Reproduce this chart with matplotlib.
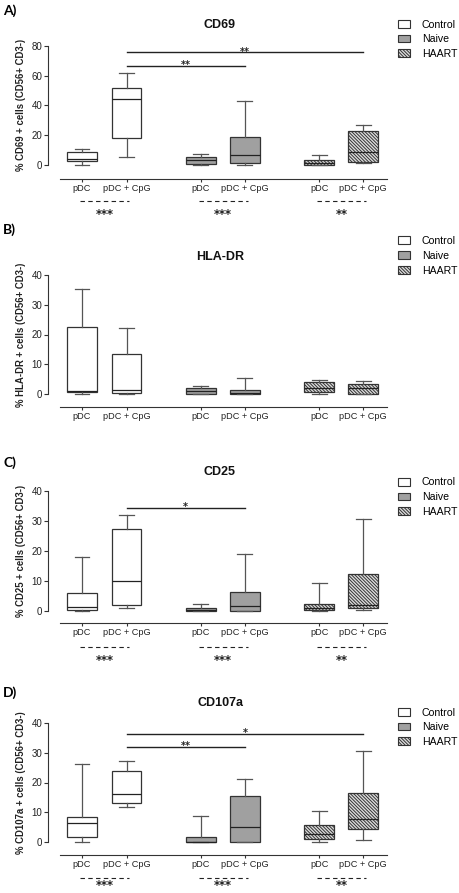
import matplotlib
matplotlib.use('Agg')
import matplotlib.pyplot as plt
import matplotlib.transforms as mtransforms
from matplotlib.patches import Patch

plt.rcParams['font.family'] = ['Liberation Sans', 'DejaVu Sans']
plt.rcParams['hatch.linewidth'] = 0.7

groups = ['Control', 'Naive', 'HAART']
tick_labels = ['pDC', 'pDC + CpG', 'pDC', 'pDC + CpG', 'pDC', 'pDC + CpG']

# box stats per condition: Control pDC, Control CpG, Naive pDC, Naive CpG, HAART pDC, HAART CpG
cd69_lo = [0, 5.1, 0, 0, 0, 1.1]
cd69_q1 = [2.8, 17.9, 0.4, 1.6, 0.3, 2.2]
cd69_med = [4.1, 44, 3.2, 6.5, 1.6, 8.9]
cd69_q3 = [8.9, 51.4, 5.6, 19, 3.4, 23]
cd69_hi = [10.5, 62, 7.4, 42.8, 6.5, 26.8]

hla_lo = [0, 0, 0, 0, 0, 0]
hla_q1 = [0.6, 0.2, 0, 0, 0.7, 0]
hla_med = [1.0, 1.3, 0.9, 0.5, 2.1, 1.9]
hla_q3 = [22.4, 13.4, 2.1, 1.2, 3.9, 3.2]
hla_hi = [35.2, 22.2, 2.6, 5.3, 4.7, 4.3]

cd25_lo = [0, 0.9, 0, 0, 0, 0.1]
cd25_q1 = [0.2, 2.0, 0, 0, 0.2, 1.0]
cd25_med = [1.3, 10, 0.2, 1.6, 0.8, 1.8]
cd25_q3 = [5.9, 27.1, 1.0, 6.2, 2.4, 12.2]
cd25_hi = [18, 32, 2.3, 19, 9.1, 30.6]

cd107_lo = [0, 11.7, 0, 0, 0, 0.9]
cd107_q1 = [1.8, 13.0, 0, 0, 1.0, 4.3]
cd107_med = [6.3, 16, 0, 5.1, 2.7, 7.7]
cd107_q3 = [8.4, 24, 1.7, 15.4, 5.7, 16.6]
cd107_hi = [26.2, 27.1, 8.7, 21.3, 10.5, 30.7]

W, H = 459, 893
fig = plt.figure(figsize=(W / 100, H / 100), dpi=100)

positions = [1, 2, 3.67, 4.66, 6.33, 7.32]
haart_hatch = '\\' * 10
fills = ['white', 'white', '#a0a0a0', '#a0a0a0', '#dcdcdc', '#dcdcdc']
hatches = [None, None, None, None, haart_hatch, haart_hatch]
edge = '#333333'
unit_px = 44.5


def fx(x):
    return x / W


def fy(y):
    return 1 - y / H


def panel(letter, title, ylabel, lo, q1, med, q3, hi, ymax, yticks,
          top_px, zero_px, xoff, letter_y, title_y, legend_y, sig, bottom,
          star_px=49.5):
    ax = fig.add_axes([fx(60), fy(zero_px), fx(327), (zero_px - top_px) / H])
    stats = [dict(med=med[i], q1=q1[i], q3=q3[i], whislo=lo[i], whishi=hi[i], fliers=[])
             for i in range(6)]
    bp = ax.bxp(stats, positions=positions, widths=0.67, patch_artist=True,
                showfliers=False,
                boxprops=dict(linewidth=0.9, edgecolor=edge),
                medianprops=dict(color='#222222', linewidth=0.9),
                whiskerprops=dict(color='#555555', linewidth=0.9),
                capprops=dict(color='#555555', linewidth=0.9))
    for b, c, h in zip(bp['boxes'], fills, hatches):
        b.set_facecolor(c)
        if h:
            b.set_hatch(h)
    for key in bp:
        for art in bp[key]:
            art.set_clip_on(False)

    ax.set_xlim(1 + (60 - 82) / unit_px, 1 + (387 - 82) / unit_px)
    ax.set_ylim(0, ymax)
    ax.set_yticks(yticks)
    ax.set_xticks(positions)
    ax.set_xticklabels(tick_labels)
    ax.patch.set_visible(False)
    for s in ['top', 'right']:
        ax.spines[s].set_visible(False)
    ax.spines['left'].set_position(('outward', 8.6))
    ax.spines['left'].set_bounds(0, ymax)
    ax.spines['bottom'].set_position(('outward', xoff))
    for s in ['left', 'bottom']:
        ax.spines[s].set_linewidth(0.8)
        ax.spines[s].set_color(edge)
    ax.tick_params(axis='x', length=2.2, width=0.8, labelsize=6.6, pad=1.2,
                   color=edge, labelcolor='#222222')
    ax.tick_params(axis='y', length=2.9, width=0.8, labelsize=7, pad=1.2,
                   color=edge, labelcolor='#222222')
    ax.set_ylabel(ylabel, fontsize=6.9, fontweight='bold', color='#222222')
    ax.yaxis.set_label_coords((26 - 60) / 327, 0.5)

    # significance bars between groups
    for i, j, y, txt in sig:
        ax.plot([positions[i], positions[j]], [y, y], color='#222222', lw=1.0,
                clip_on=False)
        ax.annotate(txt, xy=((positions[i] + positions[j]) / 2, y),
                    xytext=(0, -1.6), textcoords='offset points',
                    ha='center', va='baseline', fontsize=7, fontweight='bold',
                    family='DejaVu Sans', color='#222222')

    # dashed comparisons below the axis
    if bottom:
        base = ax.get_xaxis_transform()
        for k, txt in enumerate(bottom):
            x0 = positions[2 * k] - 0.05
            x1 = positions[2 * k + 1] + 0.06
            tr = base + mtransforms.ScaledTranslation(0, -36 / 100, fig.dpi_scale_trans)
            ax.plot([x0, x1], [0, 0], transform=tr, color='#222222', lw=0.8,
                    linestyle=(0, (4, 3)), clip_on=False)
            tr2 = base + mtransforms.ScaledTranslation(0, -star_px / 100, fig.dpi_scale_trans)
            ax.text((x0 + x1) / 2, 0, txt, transform=tr2, ha='center', va='center',
                    fontsize=8.3, fontweight='bold', family='DejaVu Sans',
                    color='#222222')

    fig.text(fx(3), fy(letter_y), letter, fontsize=10, fontweight='bold',
             family=['Lato', 'DejaVu Sans'], ha='left', va='center')
    fig.text(fx(220), fy(title_y), title, fontsize=9, fontweight='bold',
             ha='center', va='center', color='#111111')

    handles = [Patch(facecolor='white', edgecolor=edge, linewidth=0.8),
               Patch(facecolor='#a0a0a0', edgecolor=edge, linewidth=0.8),
               Patch(facecolor='#dcdcdc', edgecolor=edge, linewidth=0.8,
                     hatch=haart_hatch)]
    fig.legend(handles, groups, loc='upper left',
               bbox_to_anchor=(fx(398), fy(legend_y)), frameon=False,
               fontsize=7.6, handlelength=1.15, handleheight=0.75,
               handletextpad=1.1, labelspacing=0.45, borderpad=0,
               borderaxespad=0)
    return ax


panel('A)', 'CD69', '% CD69 + cells (CD56+ CD3-)',
      cd69_lo, cd69_q1, cd69_med, cd69_q3, cd69_hi, 80, [0, 20, 40, 60, 80],
      45.7, 165, 10.1, 11, 25, 19.5,
      [(1, 5, 75.5, '**'), (1, 3, 66.6, '**')], ['***', '***', '**'])

panel('B)', 'HLA-DR', '% HLA-DR + cells (CD56+ CD3-)',
      hla_lo, hla_q1, hla_med, hla_q3, hla_hi, 40, [0, 10, 20, 30, 40],
      275, 394, 9.4, 230, 257, 236, [], None)

panel('C)', 'CD25', '% CD25 + cells (CD56+ CD3-)',
      cd25_lo, cd25_q1, cd25_med, cd25_q3, cd25_hi, 40, [0, 10, 20, 30, 40],
      490.7, 610.7, 8.9, 463, 472, 477.5,
      [(1, 3, 34.4, '*')], ['***', '***', '**'])

panel('D)', 'CD107a', '% CD107a + cells (CD56+ CD3-)',
      cd107_lo, cd107_q1, cd107_med, cd107_q3, cd107_hi, 40, [0, 10, 20, 30, 40],
      722.7, 842.3, 9.1, 693, 703, 707.5,
      [(1, 5, 36.2, '*'), (1, 3, 31.8, '**')], ['***', '***', '**'],
      star_px=43.5)

fig.savefig('out.png', dpi=100)
